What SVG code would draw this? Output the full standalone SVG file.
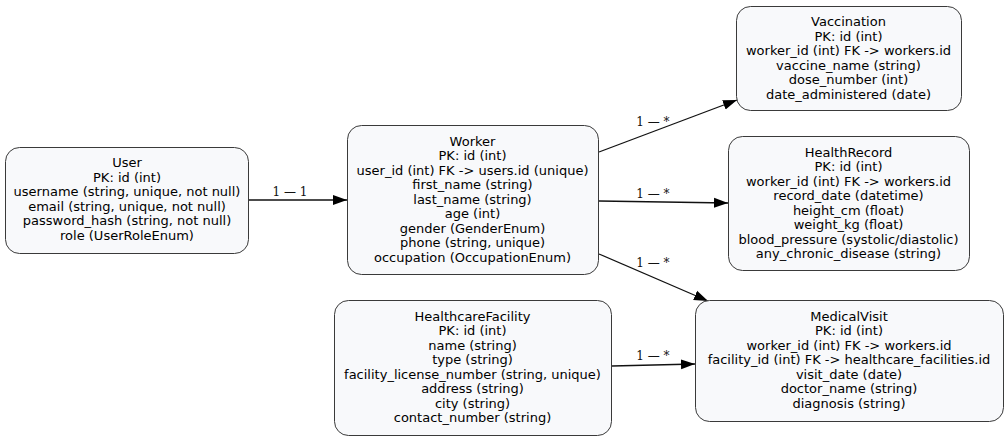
<svg xmlns="http://www.w3.org/2000/svg" width="1008" height="441" viewBox="0 0 1008 441">
<style>
.box{fill:#f8f9fb;stroke:#3a3a3a;stroke-width:1}
.t{font-family:"DejaVu Sans",sans-serif;font-size:13px;fill:#000;text-anchor:middle}
.e{stroke:#111;stroke-width:1.3;fill:none}
.l{font-family:"DejaVu Serif",serif;font-size:12px;fill:#111;text-anchor:middle}
</style>
<defs>
<marker id="ah" markerUnits="userSpaceOnUse" markerWidth="16" markerHeight="12" viewBox="0 -6 16 12" refX="14" refY="0" orient="auto">
<path d="M0,-5 L14,0 L0,5 z" fill="#000"/>
</marker>
</defs>
<rect width="1008" height="441" fill="#fff"/>
<g id="connectors">
<line class="e" x1="249" y1="200" x2="347" y2="200" marker-end="url(#ah)"/>
<text class="l" x="290" y="196">1 — 1</text>
<line class="e" x1="599" y1="152" x2="737" y2="100" marker-end="url(#ah)"/>
<text class="l" x="653" y="126">1 — *</text>
<line class="e" x1="599" y1="201" x2="728" y2="203" marker-end="url(#ah)"/>
<text class="l" x="653" y="198">1 — *</text>
<line class="e" x1="599" y1="254" x2="708" y2="301" marker-end="url(#ah)"/>
<text class="l" x="653" y="267">1 — *</text>
<line class="e" x1="612" y1="366" x2="695" y2="364" marker-end="url(#ah)"/>
<text class="l" x="653" y="360">1 — *</text>
</g>
<g id="user">
<rect class="box" x="5.5" y="147.5" width="243" height="106" rx="14"/>
<text class="t" x="127" y="167">User</text>
<text class="t" x="127" y="181.5">PK: id (int)</text>
<text class="t" x="127" y="196">username (string, unique, not null)</text>
<text class="t" x="127" y="210.5">email (string, unique, not null)</text>
<text class="t" x="127" y="225">password_hash (string, not null)</text>
<text class="t" x="127" y="239.5">role (UserRoleEnum)</text>
</g>
<g id="worker">
<rect class="box" x="347.5" y="125.5" width="251" height="149" rx="14"/>
<text class="t" x="472.5" y="145.5">Worker</text>
<text class="t" x="472.5" y="160">PK: id (int)</text>
<text class="t" x="472.5" y="174.5">user_id (int) FK -&gt; users.id (unique)</text>
<text class="t" x="472.5" y="189">first_name (string)</text>
<text class="t" x="472.5" y="203.5">last_name (string)</text>
<text class="t" x="472.5" y="218">age (int)</text>
<text class="t" x="472.5" y="232.5">gender (GenderEnum)</text>
<text class="t" x="472.5" y="247">phone (string, unique)</text>
<text class="t" x="472.5" y="261.5">occupation (OccupationEnum)</text>
</g>
<g id="vaccination">
<rect class="box" x="736.5" y="6.5" width="225" height="104" rx="14"/>
<text class="t" x="848.5" y="26">Vaccination</text>
<text class="t" x="848.5" y="40.5">PK: id (int)</text>
<text class="t" x="848.5" y="55">worker_id (int) FK -&gt; workers.id</text>
<text class="t" x="848.5" y="69.5">vaccine_name (string)</text>
<text class="t" x="848.5" y="84">dose_number (int)</text>
<text class="t" x="848.5" y="98.5">date_administered (date)</text>
</g>
<g id="healthrecord">
<rect class="box" x="728.5" y="136.5" width="241" height="134" rx="14"/>
<text class="t" x="848.5" y="156.5">HealthRecord</text>
<text class="t" x="848.5" y="171">PK: id (int)</text>
<text class="t" x="848.5" y="185.5">worker_id (int) FK -&gt; workers.id</text>
<text class="t" x="848.5" y="200">record_date (datetime)</text>
<text class="t" x="848.5" y="214.5">height_cm (float)</text>
<text class="t" x="848.5" y="229">weight_kg (float)</text>
<text class="t" x="848.5" y="243.5">blood_pressure (systolic/diastolic)</text>
<text class="t" x="848.5" y="258">any_chronic_disease (string)</text>
</g>
<g id="healthcarefacility">
<rect class="box" x="334.5" y="300.5" width="277" height="135" rx="14"/>
<text class="t" x="472.5" y="320.5">HealthcareFacility</text>
<text class="t" x="472.5" y="335">PK: id (int)</text>
<text class="t" x="472.5" y="349.5">name (string)</text>
<text class="t" x="472.5" y="364">type (string)</text>
<text class="t" x="472.5" y="378.5">facility_license_number (string, unique)</text>
<text class="t" x="472.5" y="393">address (string)</text>
<text class="t" x="472.5" y="407.5">city (string)</text>
<text class="t" x="472.5" y="422">contact_number (string)</text>
</g>
<g id="medicalvisit">
<rect class="box" x="695.5" y="300.5" width="308" height="121" rx="14"/>
<text class="t" x="849" y="320.5">MedicalVisit</text>
<text class="t" x="849" y="335">PK: id (int)</text>
<text class="t" x="849" y="349.5">worker_id (int) FK -&gt; workers.id</text>
<text class="t" x="849" y="364">facility_id (int) FK -&gt; healthcare_facilities.id</text>
<text class="t" x="849" y="378.5">visit_date (date)</text>
<text class="t" x="849" y="393">doctor_name (string)</text>
<text class="t" x="849" y="407.5">diagnosis (string)</text>
</g>
</svg>
